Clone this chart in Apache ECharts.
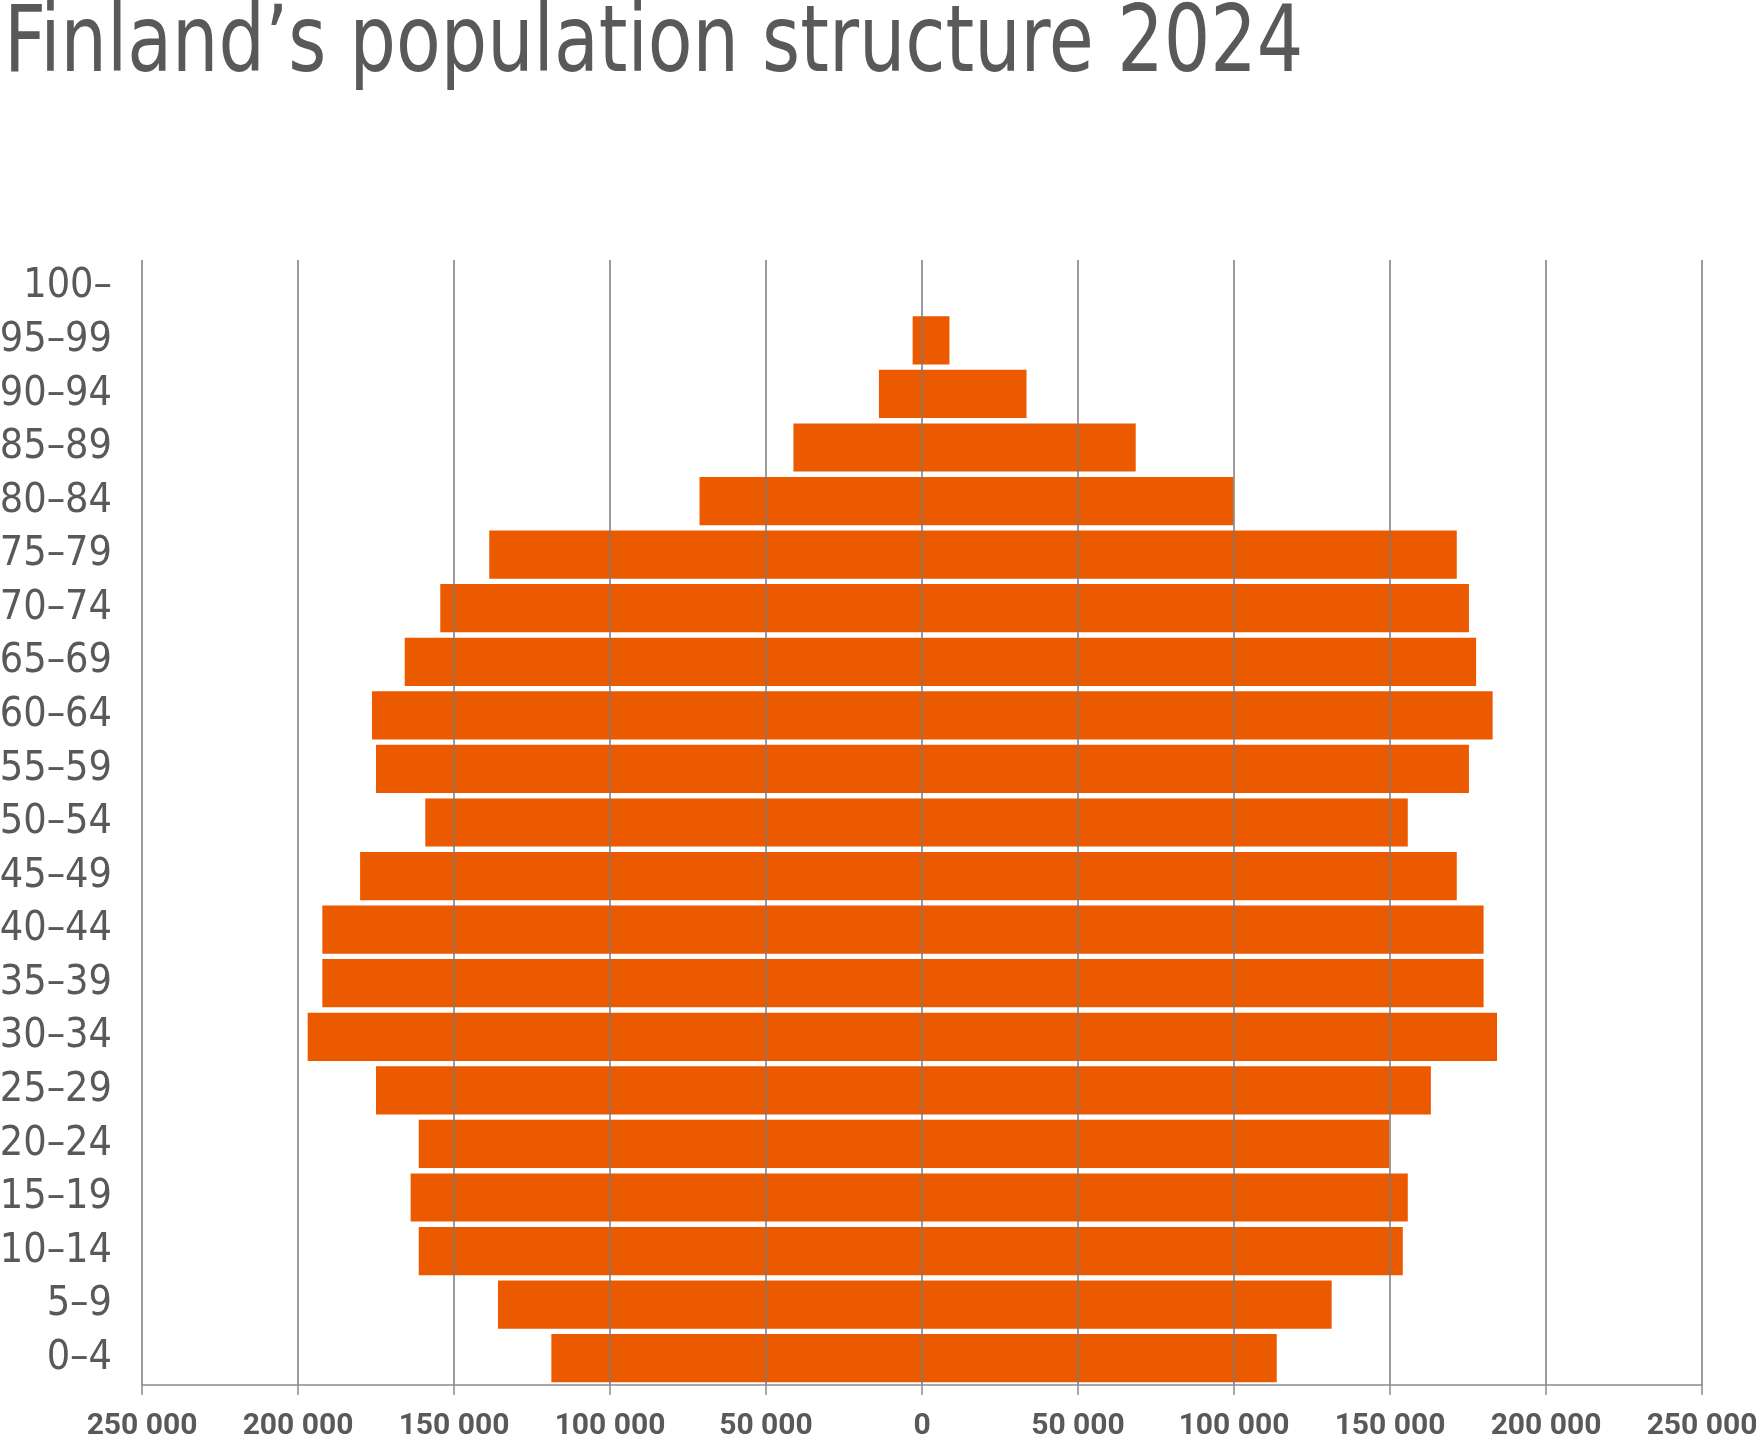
<!DOCTYPE html>
<html lang="en">
<head>
  <meta charset="UTF-8">
  <title>Finland's population structure 2024</title>
  <script src="https://cdn.jsdelivr.net/npm/echarts@6/dist/echarts.min.js"></script>
  <style>
    html, body {
      margin: 0;
      padding: 0;
      background: #ffffff;
    }
    #chart {
      width: 1756px;
      height: 1439px;
    }
  </style>
</head>
<body>
  <div id="chart"></div>

<script>
  // age groups, bottom to top
  const ageGroups = ['0–4', '5–9', '10–14', '15–19', '20–24', '25–29', '30–34', '35–39',
    '40–44', '45–49', '50–54', '55–59', '60–64', '65–69', '70–74', '75–79',
    '80–84', '85–89', '90–94', '95–99', '100–'];

  // left side of the pyramid
  const males = [118800, 135900, 161300, 163900, 161300, 175000, 196900, 192200,
    192200, 180100, 159200, 175000, 176300, 165800, 154400, 138700,
    71300, 41200, 13800, 3000, 0];

  // right side of the pyramid
  const females = [113700, 131300, 154100, 155700, 149700, 163100, 184300, 180000,
    180000, 171400, 155700, 175300, 182900, 177600, 175300, 171400,
    99800, 68500, 33500, 8800, 0];

  const xTicks = [-250000, -200000, -150000, -100000, -50000, 0, 50000, 100000, 150000, 200000, 250000];

  const textColor = '#58595b';
  const barColor = '#ec5a00';
  const fontName = '"DejaVu Sans Condensed", "DejaVu Sans", sans-serif';

  function fmt(v) {
    // 250 000 style, no sign
    return String(Math.abs(v)).replace(/\B(?=(\d{3})+(?!\d))/g, ' ');
  }

  const chart = echarts.init(document.getElementById('chart'), null, { renderer: 'canvas' });

  const option = {
    backgroundColor: '#ffffff',
    animation: false,
    // title as graphic text so it can be squeezed a little horizontally
    graphic: [
      {
        type: 'text',
        x: 4,
        y: 1,
        scaleX: 0.884,
        style: {
          text: 'Finland’s population structure 2024',
          fontFamily: fontName,
          fontSize: 92,
          fill: textColor,
          verticalAlign: 'top'
        }
      }
    ],
    grid: {
      left: 142,
      right: 54,
      top: 260,
      bottom: 54,
      containLabel: false,
      outerBoundsMode: 'none'
    },
    xAxis: {
      type: 'value',
      min: xTicks[0],
      max: xTicks[xTicks.length - 1],
      interval: 50000,
      z: 5,
      axisLine: {
        show: true,
        onZero: false,
        lineStyle: { color: '#8a8a8a', width: 1.5 }
      },
      axisTick: {
        show: true,
        length: 10,
        lineStyle: { color: '#8a8a8a', width: 1.5 }
      },
      splitLine: {
        show: true,
        lineStyle: { color: '#7a7a7a', width: 1.5 }
      },
      axisLabel: {
        margin: 26,
        fontFamily: 'Roboto, sans-serif',
        fontSize: 30,
        fontWeight: 'bold',
        color: textColor,
        formatter: fmt
      }
    },
    yAxis: {
      type: 'category',
      data: ageGroups,
      axisLine: { show: false },
      axisTick: { show: false },
      splitLine: { show: false },
      axisLabel: {
        interval: 0,
        margin: 30,
        fontFamily: fontName,
        fontSize: 41,
        color: textColor
      }
    },
    series: [
      {
        name: 'Males',
        type: 'bar',
        data: males.map(v => -v),
        barCategoryGap: '10%',
        barGap: '-100%',
        itemStyle: { color: barColor }
      },
      {
        name: 'Females',
        type: 'bar',
        data: females,
        barCategoryGap: '10%',
        barGap: '-100%',
        itemStyle: { color: barColor }
      }
    ]
  };

  chart.setOption(option);
</script>
</body>
</html>
